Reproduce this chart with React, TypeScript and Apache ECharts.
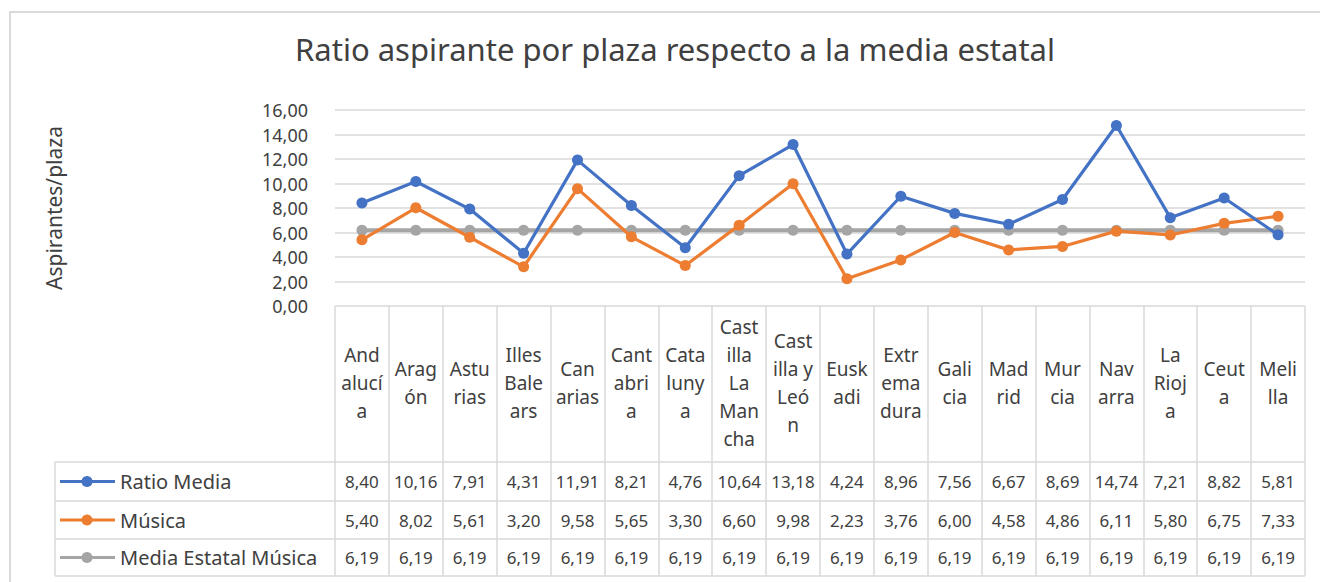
import React, { useEffect, useRef } from "react";
import * as echarts from "echarts";

const categories = [
  "Andalucía", "Aragón", "Asturias", "Illes Balears", "Canarias", "Cantabria",
  "Catalunya", "Castilla La Mancha", "Castilla y León", "Euskadi", "Extremadura",
  "Galicia", "Madrid", "Murcia", "Navarra", "La Rioja", "Ceuta", "Melilla",
];
const categoryLabels = [
  "And\nalucí\na", "Arag\nón", "Astu\nrias", "Illes\nBale\nars", "Can\narias",
  "Cant\nabri\na", "Cata\nluny\na", "Cast\nilla\nLa\nMan\ncha", "Cast\nilla y\nLeó\nn",
  "Eusk\nadi", "Extr\nema\ndura", "Gali\ncia", "Mad\nrid", "Mur\ncia", "Nav\narra",
  "La\nRioj\na", "Ceut\na", "Meli\nlla",
];
const ratioMedia = [8.40, 10.16, 7.91, 4.31, 11.91, 8.21, 4.76, 10.64, 13.18, 4.24, 8.96, 7.56, 6.67, 8.69, 14.74, 7.21, 8.82, 5.81];
const musica = [5.40, 8.02, 5.61, 3.20, 9.58, 5.65, 3.30, 6.60, 9.98, 2.23, 3.76, 6.00, 4.58, 4.86, 6.11, 5.80, 6.75, 7.33];
const mediaEstatal = [6.19, 6.19, 6.19, 6.19, 6.19, 6.19, 6.19, 6.19, 6.19, 6.19, 6.19, 6.19, 6.19, 6.19, 6.19, 6.19, 6.19, 6.19];
const seriesNames = ["Ratio Media", "Música", "Media Estatal Música"];
const seriesColors = ["#4472C4", "#ED7D31", "#A5A5A5"];
const yTicks = { min: 0, max: 16, interval: 2 };
const title = "Ratio aspirante por plaza respecto a la media estatal";
const yAxisName = "Aspirantes/plaza";

const FONT = "'Noto Sans', sans-serif";
const fmt = (v: number) => v.toFixed(2).replace(".", ",");

export default function App() {
  const ref = useRef<HTMLDivElement>(null);
  useEffect(() => {
    if (!ref.current) return;
    const chart = echarts.init(ref.current, null, { renderer: "svg" });
    const gridLeft = 335;
    const gridRight = 1305;
    const gridTop = 110;
    const gridBottom = 306;
    const rowLines = [462, 501, 539, 576];
    const tableLeft = 55;
    const allSeries = [ratioMedia, musica, mediaEstatal];

    chart.setOption({
      animation: false,
      backgroundColor: "#ffffff",
      textStyle: { fontFamily: FONT },
      title: {
        text: title,
        left: 670,
        top: 28,
        textAlign: "center",
        textStyle: { fontSize: 31, fontWeight: "normal", color: "#404040", fontFamily: FONT },
      },
      grid: { left: gridLeft, right: 1320 - gridRight, top: gridTop, bottom: 582 - gridBottom },
      xAxis: {
        type: "category",
        data: categories,
        boundaryGap: true,
        axisLine: { show: false },
        axisTick: { show: true, length: rowLines[3] - gridBottom, lineStyle: { color: "#D9D9D9", width: 1.5 } },
        axisLabel: {
          interval: 0,
          margin: 77,
          verticalAlign: "middle",
          lineHeight: 28,
          fontSize: 19,
          color: "#404040",
          fontFamily: FONT,
          formatter: (_v: string, i: number) => categoryLabels[i],
        },
        splitLine: { show: false },
      },
      yAxis: {
        type: "value",
        min: yTicks.min,
        max: yTicks.max,
        interval: yTicks.interval,
        name: yAxisName,
        nameLocation: "middle",
        nameGap: 271,
        nameTextStyle: { fontSize: 21, color: "#404040", fontFamily: FONT },
        axisLine: { show: false },
        axisTick: { show: false },
        axisLabel: { margin: 27, fontSize: 18, color: "#404040", fontFamily: FONT, formatter: (v: number) => fmt(v) },
        splitLine: { lineStyle: { color: "#D9D9D9", width: 1.5 } },
      },
      series: allSeries.map((d, k) => ({
        name: seriesNames[k],
        type: "line",
        data: d,
        symbol: "circle",
        symbolSize: 11,
        z: 3 - k,
        lineStyle: { color: seriesColors[k], width: k === 2 ? 4 : 3.2 },
        itemStyle: { color: seriesColors[k] },
      })),
    });

    const graphics: any[] = [];
    graphics.push({
      type: "rect",
      shape: { x: 10, y: 12, width: 1400, height: 700 },
      style: { fill: "none", stroke: "#D9D9D9", lineWidth: 2 },
      silent: true,
    });
    rowLines.forEach((y) => {
      graphics.push({
        type: "line",
        shape: { x1: tableLeft, y1: y, x2: gridRight, y2: y },
        style: { stroke: "#D9D9D9", lineWidth: 1.5 },
      });
    });
    graphics.push({
      type: "line",
      shape: { x1: tableLeft, y1: rowLines[0], x2: tableLeft, y2: rowLines[3] },
      style: { stroke: "#D9D9D9", lineWidth: 1.5 },
    });
    allSeries.forEach((d, k) => {
      const cy = (rowLines[k] + rowLines[k + 1]) / 2;
      graphics.push({
        type: "line",
        shape: { x1: 60, y1: cy, x2: 115, y2: cy },
        style: { stroke: seriesColors[k], lineWidth: 3.2 },
      });
      graphics.push({
        type: "circle",
        shape: { cx: 87, cy, r: 5.5 },
        style: { fill: seriesColors[k] },
      });
      graphics.push({
        type: "text",
        x: 120,
        y: cy,
        style: {
          text: seriesNames[k],
          fontSize: 20,
          fontFamily: FONT,
          fill: "#404040",
          align: "left",
          verticalAlign: "middle",
        },
      });
      d.forEach((v, i) => {
        const px = chart.convertToPixel({ xAxisIndex: 0 }, i) as number;
        graphics.push({
          type: "text",
          x: px,
          y: cy,
          style: {
            text: fmt(v),
            fontSize: 17,
            fontFamily: FONT,
            fill: "#404040",
            align: "center",
            verticalAlign: "middle",
          },
        });
      });
    });
    chart.setOption({ graphic: graphics });

    return () => chart.dispose();
  }, []);
  return (
    <div
      ref={ref}
      style={{ position: "fixed", left: 0, top: 0, width: 1320, height: 582 }}
    />
  );
}
